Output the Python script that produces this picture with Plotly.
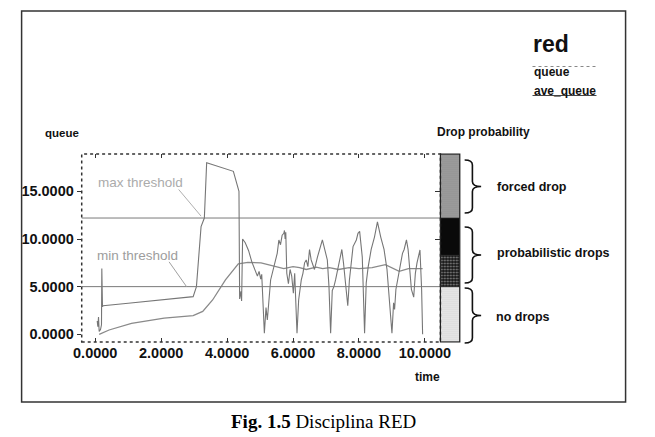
import plotly.graph_objects as go

W, H = 655, 437

# ---------------- data ----------------
time_q = [0.06, 0.08, 0.10, 0.12, 0.16, 0.19, 0.20, 0.22, 0.24, 1.0, 2.0, 2.97,
          3.07, 3.21, 3.31, 3.38, 4.19, 4.31, 4.36, 4.38, 4.42, 4.44, 4.47, 4.55,
          4.65, 4.75, 4.85, 4.92, 4.97, 5.02, 5.05, 5.09, 5.13, 5.18, 5.22, 5.32,
          5.42, 5.52, 5.57, 5.62, 5.67, 5.72, 5.74, 5.76, 5.78, 5.81, 5.86, 5.91,
          5.96, 6.01, 6.05, 6.10, 6.12, 6.17, 6.25, 6.30, 6.35, 6.40, 6.45, 6.50,
          6.55, 6.65, 6.74, 6.89, 6.99, 7.04, 7.09, 7.14, 7.19, 7.24, 7.29, 7.38,
          7.48, 7.53, 7.58, 7.66, 7.71, 7.77, 7.82, 7.92, 7.97, 8.02, 8.05, 8.10,
          8.17, 8.22, 8.28, 8.37, 8.47, 8.56, 8.66, 8.76, 8.85, 8.90, 8.95, 9.00,
          9.05, 9.08, 9.12, 9.22, 9.27, 9.32, 9.37, 9.44, 9.49, 9.54, 9.59, 9.66,
          9.71, 9.76, 9.82, 9.85, 9.90, 9.93]
queue = [1.4, 0.8, 1.8, 0.3, 0.5, 1.0, 6.9, 2.9, 3.0, 3.25, 3.6, 3.95,
         5.0, 11.3, 12.2, 18.0, 17.1, 15.8, 15.0, 3.7, 4.5, 3.5, 10.0, 9.6,
         8.8, 7.6, 6.6, 6.1, 6.6, 5.8, 6.3, 3.0, 0.1, 2.8, 1.5, 5.7,
         7.1, 8.5, 9.9, 9.4, 10.4, 10.6, 10.9, 10.0, 10.7, 6.4, 5.3, 6.8,
         6.1, 4.3, 6.4, 1.2, 0.1, 3.6, 5.7, 6.4, 7.5, 7.8, 7.1, 8.9,
         7.8, 6.8, 8.1, 9.9, 8.5, 7.8, 5.0, 0.1, 4.6, 5.0, 5.7, 7.1,
         8.9, 7.5, 5.7, 3.0, 5.7, 8.1, 9.2, 9.9, 10.6, 10.8, 9.9, 8.1,
         0.1, 5.4, 7.1, 8.9, 10.2, 11.8, 10.2, 8.9, 6.8, 4.3, 1.9, 0.1,
         3.3, 2.6, 4.7, 6.8, 7.8, 8.5, 8.9, 9.9, 8.9, 6.4, 4.7, 3.9,
         6.4, 7.5, 8.5, 8.85, 4.7, 0.0]

time_avg = [0.12, 0.42, 1.1, 2.09, 2.97, 3.26, 3.56, 3.95, 4.34, 4.63, 5.03,
            5.25, 5.42, 5.72, 6.0, 6.2, 6.4, 6.7, 6.9, 7.1, 7.38, 7.7, 8.0,
            8.4, 8.8, 9.0, 9.22, 9.5, 9.93]
ave_queue = [0.0, 0.45, 1.15, 1.7, 1.95, 2.4, 3.6, 5.7, 7.4, 7.55, 7.5,
             7.3, 7.1, 6.9, 7.1, 7.0, 6.8, 7.05, 6.9, 7.0, 6.8, 7.0, 6.9,
             7.0, 7.3, 7.0, 6.6, 6.9, 6.9]

min_threshold = 5.0
max_threshold = 12.2

x_ticks = [0, 2, 4, 6, 8, 10]
y_ticks = [0, 5, 10, 15]
x_range = [-0.41, 10.47]
y_range = [-0.81, 18.92]

# drop-probability bar bands (bottom -> top)
band_lo = [-0.81, 5.0, 8.3, 12.2]
band_hi = [5.0, 8.3, 12.2, 18.92]
band_bg = ["#f1f1f1", "#151515", "#0a0a0a", "#a2a2a2"]
band_fg = ["#dcdcdc", "#d8d8d8", "#0a0a0a", "#8c8c8c"]
band_shape = [".", ".", "", "."]
band_size = [2, 3, 2, 2]
band_solidity = [0.2, 0.3, 0.3, 0.25]
drop_labels = ["no drops", "probabilistic drops", "forced drop"]

FONT = "Liberation Sans"

fig = go.Figure()

fig.add_trace(go.Scatter(x=time_avg, y=ave_queue, mode="lines",
                         line=dict(color="#8a8a8a", width=1.3),
                         showlegend=False, hoverinfo="skip"))
fig.add_trace(go.Scatter(x=time_q, y=queue, mode="lines",
                         line=dict(color="#767676", width=1.1),
                         showlegend=False, hoverinfo="skip"))

fig.add_trace(go.Bar(x=[0] * len(band_lo),
                     y=[h - l for l, h in zip(band_lo, band_hi)],
                     base=band_lo, width=1, xaxis="x2", yaxis="y",
                     marker=dict(color=band_bg,
                                 line=dict(color="#222", width=0.6),
                                 pattern=dict(shape=band_shape, bgcolor=band_bg,
                                              fgcolor=band_fg, size=band_size,
                                              solidity=band_solidity)),
                     showlegend=False, hoverinfo="skip"))

# invisible helper for right-side tick marks
fig.add_trace(go.Scatter(x=[None], y=[None], yaxis="y2", showlegend=False,
                         hoverinfo="skip"))

# threshold lines
for thr in (min_threshold, max_threshold):
    fig.add_shape(type="line", xref="x domain", yref="y", x0=0, x1=1,
                  y0=thr, y1=thr, line=dict(color="#7a7a7a", width=1))

tickfont = dict(family=FONT, size=14.5, color="#111", weight="bold")

fig.update_layout(
    width=W, height=H, autosize=False,
    margin=dict(l=0, r=0, t=0, b=0),
    paper_bgcolor="white", plot_bgcolor="white",
    barmode="overlay",
    xaxis=dict(domain=[75 / W, 445 / W], range=x_range, anchor="y",
               tickvals=x_ticks, tickformat=".4f", ticks="inside",
               ticklen=4, tickcolor="#333", mirror="ticks",
               showgrid=False, zeroline=False, showline=False,
               tickfont=tickfont),
    yaxis=dict(domain=[1 - 342 / H, 1 - 154 / H], range=y_range, anchor="x",
               tickvals=y_ticks, tickformat=".4f", ticks="outside",
               ticklen=4, tickcolor="#333", showgrid=False, zeroline=False,
               showline=False, tickfont=tickfont),
    yaxis2=dict(overlaying="y", side="right", anchor="x", range=y_range,
                tickvals=[10, 15], ticks="inside", ticklen=5,
                tickcolor="#333", showticklabels=False, showgrid=False,
                zeroline=False, showline=False),
    xaxis2=dict(domain=[445 / W, 465 / W], range=[-0.5, 0.5], anchor="y",
                showticklabels=False, ticks="", showgrid=False,
                zeroline=False, showline=False),
)

# plot frame (dotted)
fig.add_shape(type="rect", xref="x domain", yref="y domain", x0=0, x1=1,
              y0=0, y1=1, line=dict(color="#333", width=1.5, dash="dot"))
# bar frame
fig.add_shape(type="rect", xref="x2 domain", yref="y domain", x0=0, x1=1,
              y0=0, y1=1, line=dict(color="#222", width=1.2))

# outer border
fig.add_shape(type="rect", xref="paper", yref="paper", x0=13 / W, x1=636 / W,
              y0=1 - 402 / H, y1=1 - 11 / H, line=dict(color="#333", width=1.5))

# leader lines for threshold labels
fig.add_shape(type="line", xref="x", yref="y", x0=2.53, y0=15.2, x1=3.21,
              y1=12.4, line=dict(color="#b0b0b0", width=1))
fig.add_shape(type="line", xref="x", yref="y", x0=2.24, y0=7.6, x1=2.77,
              y1=5.0, line=dict(color="#a0a0a0", width=1))


def P(px, py):
    return px / W, 1 - py / H


def brace(top, bot, x0=470, xs=478, xt=487):
    mid = (top + bot) / 2
    r = 5
    a, b = x0 / W, xs / W
    t = xt / W
    Y = lambda py: 1 - py / H
    return (f"M {a},{Y(top)} Q {b},{Y(top)} {b},{Y(top + r)} "
            f"L {b},{Y(mid - r)} Q {b},{Y(mid)} {t},{Y(mid)} "
            f"Q {b},{Y(mid)} {b},{Y(mid + r)} L {b},{Y(bot - r)} "
            f"Q {b},{Y(bot)} {a},{Y(bot)}")


for top, bot in [(160, 213), (227, 283), (288, 343)]:
    fig.add_shape(type="path", xref="paper", yref="paper",
                  path=brace(top, bot), line=dict(color="#111", width=1.6))

# legend sample lines
fig.add_shape(type="line", xref="paper", yref="paper",
              x0=540 / W, x1=606 / W, y0=1 - 66.5 / H, y1=1 - 66.5 / H,
              line=dict(color="#888", width=1, dash="dot"))
fig.add_shape(type="line", xref="paper", yref="paper",
              x0=540 / W, x1=606 / W, y0=1 - 95.5 / H, y1=1 - 95.5 / H,
              line=dict(color="#444", width=1))

ann = []


def text(s, px, py, size, xanchor="left", color="#111", weight="bold",
         family=FONT):
    x, y = P(px, py)
    ann.append(dict(text=s, x=x, y=y, xref="paper", yref="paper",
                    xanchor=xanchor, yanchor="middle", showarrow=False,
                    font=dict(family=family, size=size, color=color,
                              weight=weight)))


text("red", 538, 44, 23)
text("queue", 539, 72, 12)
text("ave_queue", 539, 91, 12)
text("queue", 55, 133, 11.5, xanchor="center")
text("Drop probability", 489, 132, 12, xanchor="center")
text("time", 432, 377, 12, xanchor="center")
text(drop_labels[2], 501, 187, 12.5)
text(drop_labels[1], 501, 253, 12.5)
text(drop_labels[0], 500, 317, 12.5)
text("<b>Fig. 1.5</b> Disciplina RED", 324, 421, 19, xanchor="center",
     color="#000", weight="normal", family="Liberation Serif")

ann.append(dict(text="max threshold", x=0.03, y=15.9, xref="x", yref="y",
                xanchor="left", yanchor="middle", showarrow=False,
                font=dict(family=FONT, size=13.5, color="#ababab")))
ann.append(dict(text="min threshold", x=0.0, y=8.3, xref="x", yref="y",
                xanchor="left", yanchor="middle", showarrow=False,
                font=dict(family=FONT, size=13.5, color="#9d9d9d")))

fig.update_layout(annotations=ann)

fig.write_html("out.html")
